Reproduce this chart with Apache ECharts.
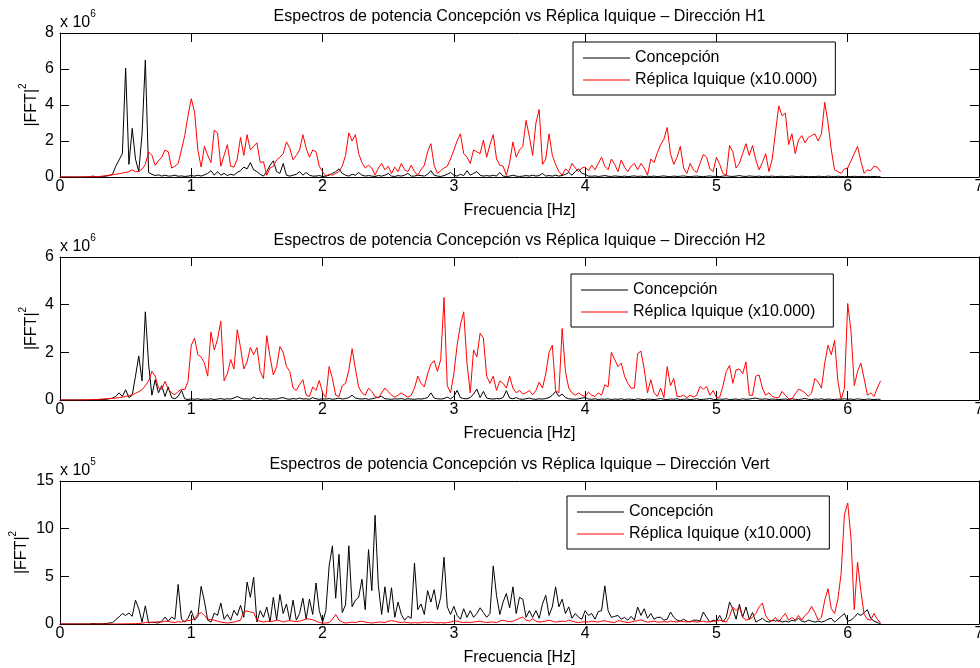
<!DOCTYPE html>
<html>
<head>
<meta charset="utf-8">
<script src="https://cdn.jsdelivr.net/npm/echarts@6/dist/echarts.min.js"></script>
<style>
  html, body { margin: 0; padding: 0; background: #fff; }
  #chart { width: 980px; height: 668px; }
</style>
</head>
<body>
<div id="chart"></div>
<script>
// Power spectra |FFT|^2, lines every 0.025 Hz from 0 to 6.25 Hz.
const FREQ_STEP = 0.025;
const xTicks = [0, 1, 2, 3, 4, 5, 6, 7];

const panelTitles = [
  'Espectros de potencia Concepción vs Réplica Iquique – Dirección H1',
  'Espectros de potencia Concepción vs Réplica Iquique – Dirección H2',
  'Espectros de potencia Concepción vs Réplica Iquique – Dirección Vert'
];
const seriesNames = ['Concepción', 'Réplica Iquique (x10.000)'];
const yExponents = ['6', '6', '5'];
const yMax = [8, 6, 15];
const yStep = [2, 2, 5];

// H1 (values in units of 10^6)
const h1Concepcion = [
  0,0,0,0,0,0,0,0,0,0.01,
  0.05,0.01,0.02,0.03,0.05,0.08,0.15,0.6,0.95,1.3,
  6.05,0.7,2.7,1.0,0.3,2.4,6.5,0.25,0.15,0.08,
  0.12,0.05,0.1,0.05,0.06,0.1,0.04,0.06,0.03,0.05,
  0.08,0.05,0.1,0.05,0.12,0.2,0.35,0.1,0.3,0.1,
  0.2,0.08,0.15,0.1,0.25,0.35,0.55,0.45,0.8,0.4,
  0.3,0.15,0.05,0.3,0.65,0.9,0.3,0.2,0.75,0.1,
  0.05,0.1,0.15,0.3,0.1,0.25,0.1,0.05,0.05,0.08,
  0.03,0.05,0.1,0.2,0.3,0.45,0.2,0.1,0.05,0.15,
  0.1,0.25,0.1,0.05,0.08,0.05,0.03,0.08,0.05,0.1,
  0.2,0.05,0.03,0.08,0.05,0.1,0.2,0.05,0.05,0.1,
  0.08,0.05,0.15,0.35,0.1,0.05,0.03,0.08,0.15,0.25,
  0.1,0.05,0.15,0.08,0.35,0.1,0.2,0.3,0.1,0.05,
  0.08,0.05,0.1,0.05,0.25,0.05,0.03,0.05,0.1,0.05,
  0.03,0.05,0.08,0.05,0.1,0.05,0.08,0.2,0.05,0.08,
  0.05,0.1,0.05,0.08,0.15,0.25,0.1,0.3,0.45,0.2,
  0.15,0.05,0.04,0.06,0.03,0.05,0.08,0.04,0.03,0.06,
  0.04,0.03,0.05,0.02,0.04,0.06,0.03,0.05,0.02,0.04,
  0.03,0.05,0.02,0.04,0.06,0.03,0.02,0.05,0.03,0.04,
  0.06,0.03,0.02,0.04,0.05,0.03,0.02,0.04,0.06,0.03,
  0.04,0.02,0.05,0.07,0.04,0.03,0.05,0.08,0.04,0.03,
  0.06,0.04,0.03,0.05,0.02,0.04,0.03,0.05,0.02,0.03,
  0.04,0.02,0.03,0.05,0.03,0.02,0.04,0.03,0.02,0.03,
  0.02,0.04,0.03,0.02,0.05,0.03,0.02,0.04,0.03,0.02,
  0.03,0.02,0.04,0.02,0.03,0.02,0.03,0.02,0.03,0.02,
  0.02
];
const h1Replica = [
  0,0,0,0,0,0,0,0,0.01,0.01,
  0.02,0.02,0.03,0.05,0.07,0.1,0.12,0.15,0.18,0.22,
  0.25,0.3,0.4,0.3,0.3,0.45,0.7,1.4,1.2,0.65,
  0.9,1.1,1.5,1.4,0.5,0.6,0.75,1.5,2.3,3.4,
  4.35,3.6,1.5,0.55,1.7,1.2,0.8,2.6,2.45,0.6,
  1.2,1.8,0.6,0.55,1.0,2.2,1.2,2.35,1.5,1.7,
  1.9,0.8,0.85,0.1,0.5,0.6,0.95,1.1,1.3,1.95,
  1.6,0.95,1.2,1.5,2.35,1.6,1.1,1.5,1.4,0.6,
  0.3,0.05,0.15,0.1,0.2,0.3,0.6,1.2,2.45,2.0,
  2.35,1.3,0.8,0.5,0.65,0.5,0.1,0.5,0.75,0.4,
  0.6,0.2,0.55,0.3,0.75,0.4,0.3,0.65,0.3,0.1,
  0.4,0.65,1.4,1.85,0.65,0.2,0.35,0.5,0.6,1.0,
  1.5,2.0,2.4,1.3,1.1,0.75,1.5,1.4,1.3,2.05,
  1.1,1.8,2.35,1.0,0.65,0.6,0.1,0.8,1.95,1.1,
  1.5,1.7,3.15,2.25,1.2,3.0,3.75,0.7,1.0,2.4,
  1.2,0.7,0.3,0.1,0.45,0.3,0.75,0.5,0.3,0.5,
  0.55,0.35,0.65,0.4,0.75,1.1,0.6,0.4,1.0,0.7,
  0.3,0.95,0.55,0.3,0.6,0.75,0.4,0.75,0.5,0.1,
  1.0,0.8,1.35,1.8,2.1,2.75,1.3,0.7,1.1,1.7,
  0.5,0.2,0.75,0.4,0.25,0.75,1.25,1.1,0.45,0.3,
  1.1,0.7,0.2,0.1,1.75,1.4,0.5,0.75,1.3,1.85,
  1.2,1.75,0.95,0.4,0.8,1.3,0.3,1.0,2.5,3.95,
  3.4,3.55,1.8,2.4,1.3,2.05,2.3,1.9,2.2,2.3,
  2.4,2.0,2.4,4.15,3.0,1.5,0.4,0.3,0.2,0.45,
  0.5,0.9,1.3,1.7,0.9,0.2,0.4,0.35,0.6,0.55,
  0.3
];

// H2 (values in units of 10^6)
const h2Concepcion = [
  0,0,0,0,0,0,0,0,0,0,
  0,0.01,0.02,0.02,0.03,0.05,0.08,0.15,0.3,0.15,
  0.43,0.1,0.2,1.0,1.85,0.8,3.7,1.5,0.2,0.85,
  0.3,0.6,0.15,0.55,0.1,0.05,0.15,0.4,0.05,0.02,
  0.05,0.03,0.05,0.02,0.04,0.03,0.05,0.02,0.04,0.06,
  0.03,0.05,0.04,0.08,0.15,0.08,0.04,0.05,0.03,0.12,
  0.05,0.08,0.04,0.06,0.03,0.05,0.04,0.08,0.1,0.05,
  0.03,0.06,0.04,0.08,0.04,0.05,0.03,0.1,0.05,0.03,
  0.05,0.04,0.06,0.03,0.05,0.08,0.04,0.06,0.1,0.2,
  0.08,0.05,0.04,0.06,0.03,0.05,0.08,0.12,0.15,0.05,
  0.04,0.03,0.05,0.04,0.06,0.03,0.05,0.04,0.03,0.05,
  0.04,0.06,0.1,0.3,0.08,0.05,0.04,0.06,0.12,0.05,
  0.15,0.4,0.1,0.06,0.05,0.1,0.25,0.46,0.1,0.36,
  0.08,0.05,0.04,0.06,0.05,0.1,0.39,0.08,0.05,0.1,
  0.04,0.03,0.05,0.08,0.04,0.03,0.05,0.04,0.06,0.1,
  0.2,0.36,0.15,0.25,0.1,0.05,0.04,0.03,0.05,0.08,
  0.1,0.04,0.03,0.05,0.02,0.04,0.03,0.05,0.02,0.04,
  0.03,0.05,0.02,0.04,0.03,0.02,0.05,0.03,0.02,0.04,
  0.03,0.02,0.04,0.06,0.03,0.02,0.04,0.03,0.05,0.02,
  0.03,0.04,0.02,0.03,0.05,0.02,0.03,0.04,0.06,0.03,
  0.02,0.04,0.03,0.05,0.02,0.03,0.04,0.02,0.05,0.03,
  0.04,0.06,0.08,0.04,0.03,0.05,0.02,0.04,0.03,0.02,
  0.03,0.04,0.02,0.05,0.03,0.02,0.04,0.06,0.03,0.02,
  0.04,0.03,0.05,0.02,0.04,0.03,0.02,0.04,0.03,0.05,
  0.03,0.04,0.02,0.05,0.03,0.02,0.04,0.03,0.02,0.03,
  0.03
];
const h2Replica = [
  0,0,0,0,0,0,0,0,0.01,0.01,
  0.02,0.02,0.03,0.04,0.05,0.06,0.07,0.08,0.1,0.12,
  0.15,0.18,0.22,0.28,0.35,0.43,0.6,0.8,1.2,1.0,
  0.5,0.45,0.78,0.45,0.3,0.22,0.36,0.45,0.43,0.78,
  2.3,2.6,1.9,1.8,1.55,1.0,2.85,2.1,2.55,3.3,
  0.8,1.1,1.7,1.3,2.95,2.2,1.3,1.6,2.2,1.9,
  2.2,1.2,0.9,2.7,1.8,1.05,1.4,2.24,2.0,1.4,
  1.2,0.5,0.4,0.65,0.85,0.2,0.15,0.55,0.4,0.82,
  0.3,0.1,1.4,0.9,0.2,0.15,0.6,0.7,1.25,2.15,
  1.3,0.55,0.3,0.2,0.5,0.35,0.15,0.08,0.3,0.5,
  0.35,0.2,0.12,0.2,0.3,0.2,0.12,0.2,0.5,1.0,
  0.7,0.55,1.1,1.5,1.65,1.2,1.7,4.3,0.6,0.3,
  1.1,2.3,3.15,3.7,1.55,0.3,2.1,1.8,2.8,2.6,
  1.0,0.7,1.0,0.4,0.8,0.7,0.5,1.0,0.5,0.3,
  0.4,0.25,0.3,0.4,0.22,0.4,0.75,0.5,1.1,2.0,
  2.3,0.4,0.3,3.0,1.2,0.5,0.3,0.2,0.3,0.2,
  0.15,0.33,0.2,0.15,0.3,0.2,0.64,0.55,2.0,1.7,
  1.4,1.55,1.0,0.7,0.5,0.5,1.95,2.05,1.3,0.3,
  0.85,0.3,0.15,0.5,0.1,1.4,0.6,0.9,0.15,0.15,
  0.2,0.1,0.2,0.12,0.2,0.57,0.45,0.57,0.2,0.4,
  0.1,0.12,0.6,1.2,1.45,0.7,1.27,1.3,1.1,1.6,
  0.2,0.2,1.0,1.05,0.5,0.2,0.3,0.15,0.1,0.1,
  0.36,0.2,0.05,0.05,0.25,0.45,0.4,0.3,0.15,0.3,
  0.9,0.75,0.5,1.55,2.3,1.9,2.5,0.8,0.02,0.5,
  4.05,2.9,0.6,1.2,1.55,0.9,0.2,0.3,0.15,0.5,
  0.8
];

// Vertical (values in units of 10^5)
const vertConcepcion = [
  0,0,0,0,0,0,0,0,0,0,
  0.05,0.02,0.02,0.03,0.05,0.1,0.15,0.45,0.75,1.1,
  0.9,1.15,0.8,2.5,1.6,0.2,1.9,0.1,0.2,0.15,
  0.1,0.3,0.73,0.3,0.73,0.5,4.15,0.5,0.2,0.6,
  1.4,0.4,0.8,3.95,2.4,0.4,0.2,1.15,0.9,2.2,
  0.5,1.0,0.4,1.43,0.9,1.96,0.7,4.4,2.8,4.9,
  0.2,1.4,0.7,1.78,0.2,2.8,0.4,3.1,1.1,2.1,
  0.4,2.5,0.4,1.1,2.7,0.5,2.6,1.0,4.3,1.4,
  0.2,1.4,6.1,8.2,2.7,7.3,1.2,2.0,8.2,1.8,
  2.5,2.8,4.7,1.5,7.8,3.5,11.4,4.0,1.0,3.9,
  1.2,3.8,0.7,2.3,1.0,0.4,0.8,0.6,6.4,1.5,
  2.1,1.0,3.5,2.3,3.6,1.5,2.8,7.0,1.8,1.0,
  1.85,0.9,0.5,1.6,0.7,1.4,0.7,1.1,1.7,1.2,
  0.7,1.1,6.1,3.0,1.0,2.3,3.2,1.7,3.9,1.1,
  2.8,2.6,0.7,1.4,0.7,1.4,0.6,2.1,3.0,0.9,
  1.8,3.9,1.8,2.6,1.1,1.8,0.6,1.1,0.7,0.5,
  1.4,0.9,1.1,0.5,1.3,1.4,4.0,1.4,0.7,0.8,
  0.9,0.5,0.7,0.4,0.8,0.4,1.78,0.9,1.6,0.6,
  1.1,0.5,0.7,0.7,0.4,0.5,1.26,0.7,0.4,0.3,
  0.5,0.3,0.2,0.4,0.4,0.3,1.26,0.7,0.2,0.4,
  0.3,0.9,0.2,0.7,2.3,1.6,0.5,2.06,0.7,1.78,
  0.5,1.2,0.2,0.4,0.6,0.3,0.2,0.4,0.3,0.4,
  0.2,0.3,0.2,0.4,0.3,0.6,0.3,0.2,0.4,0.3,
  0.2,0.3,0.2,0.3,0.5,0.6,0.2,0.5,0.8,1.1,
  0.3,0.4,0.7,1.1,0.9,1.2,1.5,0.6,0.3,0.15,
  0.05
];
const vertReplica = [
  0,0,0,0,0,0,0,0,0,0,
  0,0,0,0,0,0,0,0,0.01,0.01,
  0.02,0.02,0.03,0.04,0.05,0.1,0.15,0.2,0.15,0.2,
  0.25,0.2,0.3,0.25,0.2,0.15,0.25,0.2,0.3,0.35,
  0.4,0.6,1.0,1.2,0.9,0.5,0.45,0.4,0.3,0.2,
  0.15,0.1,0.15,0.2,0.3,0.4,1.3,1.36,1.25,1.2,
  0.4,0.3,0.2,0.3,0.25,0.3,0.4,0.35,0.2,0.3,
  0.35,0.3,0.25,0.3,0.4,0.55,0.5,0.45,0.3,0.15,
  0.1,0.1,0.15,0.5,1.0,0.4,0.2,0.1,0.15,0.2,
  0.15,0.25,0.3,0.2,0.15,0.1,0.15,0.2,0.2,0.15,
  0.3,0.35,0.3,0.2,0.15,0.2,0.15,0.1,0.15,0.1,
  0.15,0.2,0.15,0.2,0.15,0.1,0.15,0.1,0.15,0.2,
  0.3,0.3,0.2,0.15,0.2,0.15,0.2,0.25,0.3,0.2,
  0.15,0.2,0.2,0.15,0.3,0.4,0.3,0.25,0.3,0.45,
  0.6,0.73,0.4,0.3,0.55,0.3,0.2,0.25,0.3,0.4,
  0.3,0.2,0.25,0.3,0.25,0.4,0.3,0.2,0.15,0.2,
  0.25,0.2,0.3,0.25,0.2,0.3,0.35,0.25,0.2,0.15,
  0.35,0.3,0.2,0.15,0.2,0.3,0.35,0.45,0.3,0.2,
  0.25,0.3,0.2,0.2,0.25,0.2,0.3,0.25,0.2,0.3,
  0.25,0.2,0.3,0.25,0.2,0.25,0.3,0.2,0.25,0.3,
  0.3,0.4,0.3,0.2,0.8,1.78,1.4,1.78,0.7,0.4,
  0.5,0.7,1.1,1.8,2.2,0.9,0.4,0.3,0.7,0.2,
  0.7,1.1,0.4,0.7,0.4,0.9,0.4,0.9,1.2,1.85,
  1.2,0.4,0.7,2.5,3.7,1.6,1.1,2.6,5.3,11.5,
  12.7,9.0,1.5,6.5,3.5,1.0,0.5,0.4,1.1,0.5,
  0.1
];

const panels = [
  [h1Concepcion, h1Replica],
  [h2Concepcion, h2Replica],
  [vertConcepcion, vertReplica]
];

// Plot box geometry for the three stacked panels
const PLOT_LEFT = 60, PLOT_WIDTH = 919;
const plotTops = [33, 257, 481];
const plotHeights = [144, 143, 143];
const yNameGaps = [20, 20, 30];
const legendBoxes = [
  { left: 573, top: 42 },
  { left: 571, top: 274 },
  { left: 567, top: 496 }
];

const FONT = '"Liberation Sans", Arial, Helvetica, sans-serif';
const lineColors = ['#000000', '#ff0000'];

function toPairs(values) {
  return values.map((v, i) => [+(i * FREQ_STEP).toFixed(3), v]);
}

const grid = [], xAxis = [], yAxis = [], series = [], title = [], legend = [], graphic = [];

panels.forEach((pair, p) => {
  grid.push({
    left: PLOT_LEFT, top: plotTops[p], width: PLOT_WIDTH, height: plotHeights[p],
    containLabel: false, outerBoundsMode: 'none'
  });

  const tickStyle = { show: true, inside: true, length: 9, lineStyle: { color: '#000', width: 1 } };
  const lineStyle = { show: true, onZero: false, lineStyle: { color: '#000', width: 1 } };

  xAxis.push({
    gridIndex: p, type: 'value', position: 'bottom',
    min: xTicks[0], max: xTicks[xTicks.length - 1], interval: 1,
    axisLine: lineStyle, axisTick: tickStyle, splitLine: { show: false },
    axisLabel: { fontSize: 16, color: '#000', fontFamily: FONT, margin: 2 },
    name: 'Frecuencia [Hz]', nameLocation: 'middle', nameGap: 26, nameMoveOverlap: false,
    nameTextStyle: { fontSize: 16, color: '#000', fontFamily: FONT }
  });
  xAxis.push({
    gridIndex: p, type: 'value', position: 'top',
    min: xTicks[0], max: xTicks[xTicks.length - 1], interval: 1,
    axisLine: lineStyle, axisTick: tickStyle, splitLine: { show: false },
    axisLabel: { show: false }
  });
  yAxis.push({
    gridIndex: p, type: 'value', position: 'left',
    min: 0, max: yMax[p], interval: yStep[p],
    axisLine: lineStyle, axisTick: tickStyle, splitLine: { show: false },
    axisLabel: { fontSize: 16, color: '#000', fontFamily: FONT, margin: 6 },
    name: '{b||FFT|}{s|2}', nameLocation: 'middle', nameRotate: 90,
    nameGap: yNameGaps[p], nameMoveOverlap: false,
    nameTextStyle: {
      color: '#000', fontFamily: FONT,
      rich: {
        b: { fontSize: 16, fontFamily: FONT, color: '#000', lineHeight: 22, verticalAlign: 'bottom' },
        s: { fontSize: 10, fontFamily: FONT, color: '#000', lineHeight: 12, verticalAlign: 'top' }
      }
    }
  });
  yAxis.push({
    gridIndex: p, type: 'value', position: 'right',
    min: 0, max: yMax[p], interval: yStep[p],
    axisLine: lineStyle, axisTick: tickStyle, splitLine: { show: false },
    axisLabel: { show: false }
  });

  pair.forEach((values, k) => {
    series.push({
      type: 'line', name: seriesNames[k],
      xAxisIndex: 2 * p, yAxisIndex: 2 * p,
      data: toPairs(values),
      symbol: 'none', showSymbol: false, animation: false,
      lineStyle: { color: lineColors[k], width: 1 },
      itemStyle: { color: lineColors[k] },
      clip: true, silent: true
    });
  });

  title.push({
    text: panelTitles[p], left: PLOT_LEFT + PLOT_WIDTH / 2, textAlign: 'center',
    top: plotTops[p] - 24, padding: 0,
    textStyle: { fontSize: 16, fontWeight: 'normal', color: '#000', fontFamily: FONT }
  });

  legend.push({
    data: seriesNames, orient: 'vertical',
    left: legendBoxes[p].left, top: legendBoxes[p].top,
    padding: [8, 18, 7, 10], itemGap: 6, itemWidth: 47, itemHeight: 1,
    icon: 'rect',
    borderColor: '#000', borderWidth: 1, backgroundColor: '#fff', borderRadius: 0,
    selectedMode: false,
    textStyle: { fontSize: 16, color: '#000', fontFamily: FONT }
  });

  graphic.push({
    type: 'text', left: PLOT_LEFT, top: plotTops[p] - 24, silent: true,
    style: {
      text: '{a|x 10}{e|' + yExponents[p] + '}',
      rich: {
        a: { fontSize: 16, fontFamily: FONT, fill: '#000', lineHeight: 22, verticalAlign: 'bottom' },
        e: { fontSize: 10, fontFamily: FONT, fill: '#000', lineHeight: 11, verticalAlign: 'top' }
      }
    }
  });
});

const chart = echarts.init(document.getElementById('chart'), null, { renderer: 'canvas' });
chart.setOption({
  backgroundColor: '#fff',
  animation: false,
  title, legend, grid, xAxis, yAxis, series, graphic
});
</script>
</body>
</html>
